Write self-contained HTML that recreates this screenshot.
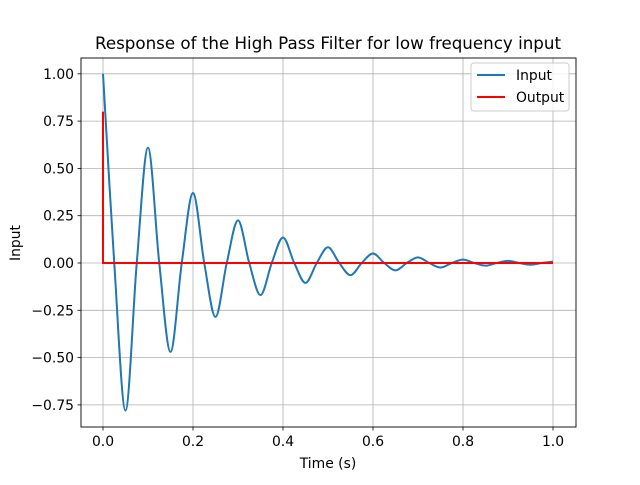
<!DOCTYPE html>
<html><head><meta charset="utf-8"><style>
body{margin:0;background:#fff}
svg text{font-family:"DejaVu Sans","Liberation Sans",sans-serif;fill:#000}
</style></head><body>
<svg id="chart" width="640" height="480" viewBox="0 0 640 480" xmlns="http://www.w3.org/2000/svg">
<rect width="640" height="480" fill="#fff"/>
<text x="328" y="49" font-size="16.7" text-anchor="middle">Response of the High Pass Filter for low frequency input</text>
<g id="grid"></g>
<g id="xticks"></g>
<g id="yticks"></g>
<path id="input-line" fill="none" stroke="#1f77b4" stroke-width="2"/>
<path id="output-line" fill="none" stroke="#ff0000" stroke-width="2"/>
<rect x="81" y="58" width="495" height="369" fill="none" stroke="#000" stroke-width="0.9"/>
<text x="328" y="468" font-size="13.9" text-anchor="middle">Time (s)</text>
<text x="20" y="243" font-size="13.9" text-anchor="middle" transform="rotate(-90 20 243)">Input</text>
<g>
<rect x="471" y="63" width="98" height="48" rx="3" fill="#fff" fill-opacity="0.8" stroke="#ccc"/>
<g><line x1="477" y1="75" x2="505" y2="75" stroke="#1f77b4" stroke-width="2"/><text x="516" y="80" font-size="13.9">Input</text></g>
<g><line x1="477" y1="97" x2="505" y2="97" stroke="#ff0000" stroke-width="2"/><text x="516" y="102" font-size="13.9">Output</text></g>
</g>
</svg>
<script>
const xTicks=[0,0.2,0.4,0.6,0.8,1.0];
const xTickLabels=["0.0","0.2","0.4","0.6","0.8","1.0"];
const yTicks=[-0.75,-0.5,-0.25,0,0.25,0.5,0.75,1.0];
const yTickLabels=["−0.75","−0.50","−0.25","0.00","0.25","0.50","0.75","1.00"];
const inputT=[0,0.025,0.05,0.075,0.1,0.125,0.15,0.175,0.2,0.225,0.25,0.275,0.3,0.325,0.35,0.375,0.4,0.425,0.45,0.475,0.5,0.525,0.55,0.575,0.6,0.625,0.65,0.675,0.7,0.725,0.75,0.775,0.8,0.825,0.85,0.875,0.9,0.925,0.95,0.975,1.0];
const inputV=[1.0,0,-0.78,0,0.61,0,-0.47,0,0.37,0,-0.285,0,0.225,0,-0.17,0,0.135,0,-0.105,0,0.083,0,-0.064,0,0.05,0,-0.039,0,0.03,0,-0.024,0,0.018,0,-0.014,0,0.011,0,-0.009,0,0.007];
const outputT=[0,0,0.001,1.0];
const outputV=[0.8,0,0,0];
const X=t=>103+t*450;
const Y=v=>263-v*189.2;
const NS="http://www.w3.org/2000/svg";
const grid=document.getElementById('grid'),xg=document.getElementById('xticks'),yg=document.getElementById('yticks');
function mk(tag,attrs,parent){const e=document.createElementNS(NS,tag);for(const k in attrs)e.setAttribute(k,attrs[k]);parent.appendChild(e);return e;}
xTicks.forEach((t,i)=>{
 const g=mk('line',{x1:X(t),x2:X(t),y1:58,y2:427,stroke:'#b0b0b0','stroke-width':0.8},grid);
 
 
 mk('line',{x1:X(t),x2:X(t),y1:427,y2:430.5,stroke:'#000','stroke-width':0.8},xg);
 const tx=mk('text',{x:X(t),y:446,'font-size':13.9,'text-anchor':'middle'},xg);
 tx.textContent=xTickLabels[i];
 
 
});
yTicks.forEach((v,i)=>{
 const g=mk('line',{x1:81,x2:576,y1:Y(v),y2:Y(v),stroke:'#b0b0b0','stroke-width':0.8},grid);
 
 
 mk('line',{x1:77.5,x2:81,y1:Y(v),y2:Y(v),stroke:'#000','stroke-width':0.8},yg);
 const tx=mk('text',{x:74,y:Y(v)+5,'font-size':13.9,'text-anchor':'end'},yg);
 tx.textContent=yTickLabels[i];
 
 
});
const P=inputT.map((t,i)=>[X(t),Y(inputV[i])]);
let d=`M${P[0][0]},${P[0][1]}`;
for(let i=0;i<P.length-1;i++){
 const p0=P[i-1]||P[i],p1=P[i],p2=P[i+1],p3=P[i+2]||p2;
 const c1=[p1[0]+(p2[0]-p0[0])/6,p1[1]+(p2[1]-p0[1])/6];
 const c2=[p2[0]-(p3[0]-p1[0])/6,p2[1]-(p3[1]-p1[1])/6];
 d+=` C${c1[0]},${c1[1]} ${c2[0]},${c2[1]} ${p2[0]},${p2[1]}`;
}
document.getElementById('input-line').setAttribute('d',d);
document.getElementById('output-line').setAttribute('d',outputT.map((t,i)=>(i?'L':'M')+X(t)+','+Y(outputV[i])).join(' '));
</script>
</body></html>
